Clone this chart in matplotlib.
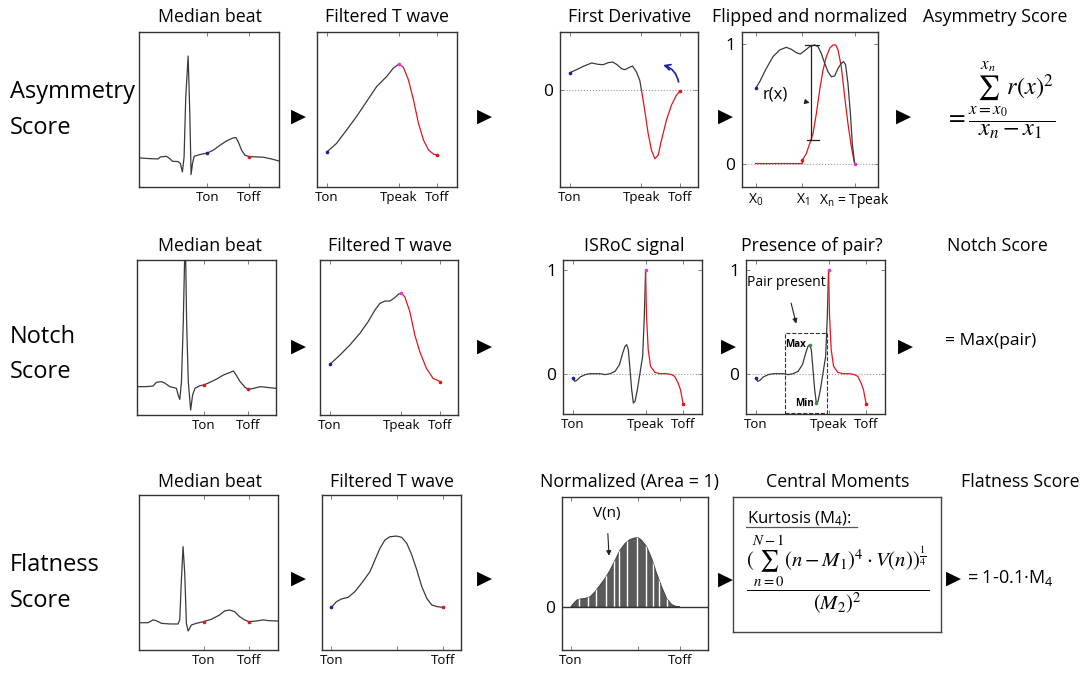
import matplotlib
matplotlib.use("Agg")
import matplotlib.pyplot as plt
from matplotlib.patches import Rectangle, Polygon
from matplotlib.lines import Line2D

plt.rcParams['font.family'] = ['Open Sans', 'DejaVu Sans']
plt.rcParams['mathtext.fontset'] = 'custom'
plt.rcParams['mathtext.rm'] = 'Open Sans'
plt.rcParams['mathtext.it'] = 'Open Sans:italic'
plt.rcParams['mathtext.bf'] = 'Open Sans:bold'

W, H = 1082, 673

# ---- row 1 : asymmetry ----
med1_x = [0, 7.6, 13.6, 15.3, 19.6, 22.0, 23.9, 27.9, 29.6, 31.0, 32.2, 33.4, 35.1, 36.3, 37.2, 38.2,
          39.4, 43.4, 48.9, 53.0, 57.8, 62.5, 67.3, 69.2, 70.9, 73.3, 75.7, 78.8, 84.0, 88.8, 93.6, 100]
med1_y = [18.8, 18.3, 18.1, 19.4, 19.8, 18.3, 16.6, 16.4, 15.1, 9.7, 19.4, 58.2, 84.5, 47.4, 8.0, 15.1,
          19.8, 20.9, 22.0, 23.7, 26.9, 29.7, 31.7, 31.9, 29.1, 23.7, 20.5, 19.6, 19.4, 19.2, 18.3, 16.8]
med1_ticks = [48.9, 78.8]
med1_dots = [(48.9, 22.0, 'blue'), (78.8, 19.6, 'red')]

filt1_rise_x = [7.2, 13.9, 21.1, 28.2, 35.4, 42.6, 49.8, 54.5, 58.6]
filt1_rise_y = [22.7, 28.1, 36.7, 45.4, 55.1, 64.8, 71.3, 76.7, 79.3]
filt1_fall_x = [58.6, 61.7, 65.3, 68.9, 72.5, 76.1, 79.7, 83.3, 85.9]
filt1_fall_y = [79.3, 77.3, 69.1, 56.2, 41.0, 30.2, 23.8, 21.2, 20.5]
filt1_ticks = [7.2, 58.6, 85.9]

der_a_x = [7.2, 12.0, 16.9, 22.9, 27.7, 31.3, 34.9, 38.1, 41.0, 44.6, 47.0, 49.4, 52.5, 55.4, 57.8, 59.0]
der_a_y = [0.51, 0.60, 0.70, 0.80, 0.76, 0.75, 0.81, 0.83, 0.76, 0.63, 0.60, 0.65, 0.71, 0.53, 0.28, 0.0]
der_b_x = [59.0, 61.4, 63.9, 66.3, 68.7, 71.1, 73.5, 77.1, 80.7, 84.3, 86.7]
der_b_y = [0.0, -0.62, -1.32, -1.82, -2.07, -1.97, -1.52, -0.92, -0.47, -0.17, -0.05]
der_ticks = [7.2, 59.0, 86.7]

flip_k_x = [10.0, 13.0, 17.9, 22.8, 27.7, 32.6, 36.3, 40.0, 42.9, 46.1, 49.8, 53.4, 55.9, 58.3, 60.8,
            63.2, 65.7, 68.1, 70.6, 73.0, 74.8, 76.2, 77.9, 79.7, 81.1, 82.8]
flip_k_y = [0.628, 0.684, 0.796, 0.894, 0.950, 0.972, 0.955, 0.927, 0.916, 0.944, 0.978, 0.992, 0.978,
            0.922, 0.838, 0.768, 0.726, 0.732, 0.796, 0.838, 0.852, 0.824, 0.670, 0.419, 0.168, 0.0]
flip_r_x = [10.0, 44.4, 44.4, 47.3, 49.8, 52.2, 54.7, 57.1, 59.6, 62.0, 64.5, 66.9, 68.9, 70.6, 73.0,
            75.5, 77.9, 80.4, 82.8]
flip_r_y = [0.0, 0.0, 0.028, 0.084, 0.168, 0.251, 0.419, 0.615, 0.782, 0.894, 0.964, 0.992, 0.992,
            0.950, 0.810, 0.559, 0.335, 0.140, 0.0]
flip_ticks = [10.0, 44.4, 82.8]
rx_pos = 51.0
rx_top, rx_bot = 0.992, 0.196

# ---- row 2 : notch ----
med2_x = [0, 6.7, 11.6, 14.0, 17.6, 20.0, 23.6, 28.4, 29.6, 30.8, 32.0, 33.3, 34.7, 35.7, 36.9, 38.6,
          40.0, 41.7, 45.3, 48.2, 52.5, 57.3, 62.2, 67.0, 69.4, 71.3, 74.2, 77.8, 80.2, 83.9, 88.7, 93.5, 100]
med2_y = [18.3, 18.3, 18.7, 21.1, 21.5, 20.6, 18.3, 17.2, 12.9, 10.1, 21.5, 60.2, 120, 60.2, 21.5, 3.2,
          12.9, 17.2, 18.9, 19.4, 21.1, 23.2, 25.8, 27.5, 28.4, 25.8, 21.5, 17.8, 16.6, 17.2, 18.3, 17.8, 17.2]
med2_ticks = [48.2, 80.2]
med2_dots = [(48.2, 19.4, 'red'), (80.2, 16.6, 'red')]

filt2_rise_x = [7.2, 14.5, 21.7, 28.9, 34.9, 39.8, 43.4, 47.0, 50.6, 54.2, 57.1, 59.0]
filt2_rise_y = [32.7, 38.7, 45.2, 52.7, 60.2, 67.7, 72.0, 73.5, 73.5, 75.7, 78.1, 78.5]
filt2_fall_x = [59.0, 61.4, 65.1, 68.7, 72.3, 77.1, 81.9, 87.2]
filt2_fall_y = [78.5, 76.3, 66.7, 51.6, 40.9, 30.1, 23.7, 21.5]
filt2_ticks = [7.2, 59.0, 87.2]

isr_a_x = [6.9, 8.4, 10.0, 12.4, 16.0, 19.6, 23.2, 26.7, 30.3, 33.9, 37.5, 40.6, 43.0, 44.6, 45.8,
           47.0, 48.2, 49.4, 50.6, 51.8, 53.5, 55.4, 57.3, 58.5, 59.4]
isr_a_y = [-0.039, -0.071, -0.061, -0.029, -0.006, 0.003, 0.003, 0.003, -0.006, 0.003, 0.026, 0.090,
           0.203, 0.267, 0.283, 0.235, 0.042, -0.151, -0.280, -0.264, -0.151, 0.010, 0.170, 0.556, 1.0]
isr_b_x = [59.4, 60.1, 61.3, 63.0, 66.1, 69.7, 74.5, 78.0, 80.4, 82.8, 84.5, 86.4]
isr_b_y = [1.0, 0.556, 0.235, 0.074, 0.016, 0.003, 0.003, -0.006, -0.023, -0.087, -0.151, -0.286]
isr_ticks = [6.9, 59.4, 86.4]
pair_max = (45.8, 0.283)
pair_min = (50.6, -0.280)
pair_box = (28.2, -0.376, 58.6, 0.395)

# ---- row 3 : flatness ----
med3_x = [0, 6.5, 10.1, 12.5, 16.1, 22.1, 28.1, 29.3, 30.5, 31.7, 32.9, 34.1, 35.3, 36.5, 37.6, 41.2,
          46.5, 52.0, 58.0, 61.6, 65.2, 68.8, 72.4, 76.0, 78.9, 84.4, 89.2, 94.0, 100]
med3_y = [17.6, 17.6, 19.4, 18.9, 17.2, 16.8, 16.8, 19.4, 45.2, 66.7, 49.5, 17.2, 12.3, 14.0, 16.1, 17.2,
          18.3, 19.8, 22.6, 25.2, 25.8, 24.7, 21.5, 19.4, 18.3, 18.7, 19.4, 18.9, 18.7]
med3_ticks = [46.5, 78.9]
med3_dots = [(46.5, 18.3, 'red'), (78.9, 18.3, 'red')]

filt3_x = [6.7, 10.4, 14.0, 18.8, 23.6, 28.4, 34.5, 38.1, 41.7, 45.3, 48.9, 53.7, 57.3, 61.0, 64.6,
           68.2, 71.8, 75.4, 79.0, 82.7, 87.0]
filt3_y = [27.5, 31.2, 32.9, 34.0, 37.6, 43.0, 50.5, 58.1, 65.6, 71.0, 73.1, 73.5, 72.7, 68.8, 61.3,
           51.6, 40.9, 33.3, 29.0, 28.0, 27.5]
filt3_ticks = [6.7, 54.0, 87.0]

norm_x = [6.1, 8.0, 10.2, 12.5, 15.9, 19.3, 22.7, 26.1, 29.5, 33.0, 36.4, 39.8, 43.2, 46.6, 50.0, 52.3,
          54.5, 58.0, 61.4, 64.8, 68.2, 71.6, 75.0, 78.4, 80.7]
norm_y = [0, 0.10, 0.20, 0.23, 0.25, 0.30, 0.45, 0.65, 0.85, 1.10, 1.40, 1.70, 1.90, 2.02, 2.07, 2.07,
          2.00, 1.80, 1.45, 1.00, 0.60, 0.25, 0.07, 0, 0]
norm_samples = [11.8, 17.7, 23.4, 29.8, 35.5, 39.1, 44.8, 51.1, 57.3, 62.5, 66.4, 71.8]
norm_ticks = [6.1, 52.0, 80.7]

BLACK = '#3a3a3a'
RED = '#e3141c'
BLUE = '#1b1f9c'
MAG = '#e03cc8'
DOTC = {'blue': BLUE, 'red': RED}
MS = 1.6
LW = 0.9


def box(l, t, r, b):
    return [l / W, 1 - b / H, (r - l) / W, (b - t) / H]


def ftext(x, y, s, **kw):
    return fig.text(x / W, 1 - y / H, s, **kw)


def panel(rect, xlim, ylim, xticks, xlabels, yticks=(), ylabels=()):
    ax = fig.add_axes(box(*rect))
    ax.set_xlim(xlim)
    ax.set_ylim(ylim)
    ax.set_xticks(xticks)
    ax.set_xticklabels(xlabels, fontsize=9.5)
    ax.set_yticks(list(yticks))
    ax.set_yticklabels(list(ylabels), fontsize=12.5)
    ax.tick_params(direction='in', length=3, top=True, right=True, width=0.6,
                   color='#666', pad=3)
    ax.tick_params(axis='y', pad=5)
    for s in ax.spines.values():
        s.set_color('#333')
        s.set_linewidth(1.0)
    return ax


fig = plt.figure(figsize=(W / 100, H / 100), dpi=100)

# row labels
for y1, y2, word in [(92, 128, 'Asymmetry'), (337, 372, 'Notch'), (565, 601, 'Flatness')]:
    ftext(10, y1, word, fontsize=17, va='center', ha='left')
    ftext(10, y2, 'Score', fontsize=17, va='center', ha='left')

# titles
titles = [
    (210, 17, 'Median beat'), (387, 17, 'Filtered T wave'), (630, 17, 'First Derivative'),
    (810, 17, 'Flipped and normalized'), (995, 17, 'Asymmetry Score'),
    (210, 246, 'Median beat'), (390, 246, 'Filtered T wave'), (634, 246, 'ISRoC signal'),
    (812, 246, 'Presence of pair?'), (997, 246, 'Notch Score'),
    (210, 482, 'Median beat'), (392, 482, 'Filtered T wave'), (630, 482, 'Normalized (Area = 1)'),
    (838, 482, 'Central Moments'), (1020, 482, 'Flatness Score'),
]
for x, y, s in titles:
    ftext(x, y, s, fontsize=12.8, ha='center', va='center')

# arrows between steps
for x, y in [(298, 116), (484, 116), (725, 116), (903, 116),
             (298, 346), (484, 346), (728, 346), (905, 346),
             (298, 578), (484, 578), (725, 579), (953, 578)]:
    ftext(x, y, '\u25B6', fontsize=14, ha='center', va='center', family='DejaVu Sans')


def draw_median(rect, xs, ys, ticks, dots):
    ax = panel(rect, (0, 100), (0, 100), ticks, ['Ton', 'Toff'])
    ax.plot(xs, ys, color=BLACK, lw=LW)
    for x, y, c in dots:
        ax.plot(x, y, 'o', ms=MS, color=DOTC[c])
    return ax


def draw_filtered(rect, rx, ry, fx, fy, ticks):
    ax = panel(rect, (0, 100), (0, 100), ticks, ['Ton', 'Tpeak', 'Toff'])
    ax.plot(rx, ry, color=BLACK, lw=LW)
    ax.plot(fx, fy, color=RED, lw=LW)
    ax.plot(rx[0], ry[0], 'o', ms=MS, color=BLUE)
    ax.plot(fx[0], fy[0], 'o', ms=MS, color=MAG)
    ax.plot(fx[-1], fy[-1], 'o', ms=MS, color=RED)
    return ax


# row 1
draw_median((139, 32, 279, 187), med1_x, med1_y, med1_ticks, med1_dots)
draw_filtered((317, 32, 457, 187), filt1_rise_x, filt1_rise_y, filt1_fall_x, filt1_fall_y, filt1_ticks)

ax = panel((560, 32, 698, 187), (0, 100), (-2.92, 1.73), der_ticks, ['Ton', 'Tpeak', 'Toff'], [0], ['0'])
ax.axhline(0, color='#999', ls=':', lw=0.8)
ax.plot(der_a_x, der_a_y, color=BLACK, lw=LW)
ax.plot(der_b_x, der_b_y, color=RED, lw=LW)
ax.plot(der_a_x[0], der_a_y[0], 'o', ms=MS, color=BLUE)
ax.plot(der_b_x[-1], der_b_y[-1], 'o', ms=MS, color=RED)
ax.annotate('', xy=(72.8, 0.76), xytext=(86.3, 0.15),
            arrowprops=dict(arrowstyle='->', color=BLUE, lw=1.2, connectionstyle='arc3,rad=0.35'))

ax = panel((742, 32, 878, 187), (0, 100), (-0.196, 1.10), flip_ticks,
           ['X$_0$', 'X$_1$', 'X$_\\mathrm{n}$ = Tpeak'], [0, 1], ['0', '1'])
ax.axhline(0, color='#999', ls=':', lw=0.8)
ax.plot(flip_r_x, flip_r_y, color=RED, lw=LW)
ax.plot(flip_k_x, flip_k_y, color=BLACK, lw=LW)
ax.plot(flip_k_x[0], flip_k_y[0], 'o', ms=MS, color=BLUE)
ax.plot(flip_k_x[-1], flip_k_y[-1], 'o', ms=MS, color=MAG)
ax.plot(flip_r_x[2], flip_r_y[2], 'o', ms=MS, color=RED)
ax.plot([rx_pos, rx_pos], [rx_bot, rx_top], color='#222', lw=0.9)
ax.plot([46.1, 56.6], [rx_top, rx_top], color='#222', lw=0.9)
ax.plot([47.8, 56.6], [rx_bot, rx_bot], color='#222', lw=0.9)
ax.annotate('r(x)', xy=(49.8, 0.508), xytext=(24.8, 0.578), fontsize=12, ha='center', va='center',
            arrowprops=dict(arrowstyle='-|>', color='#222', lw=0.8, mutation_scale=7, shrinkA=12))
ax.set_xticklabels(['X$_0$', 'X$_1$', 'X$_\\mathrm{n}$ = Tpeak'], fontsize=10)

ftext(945, 100, r'$=\dfrac{\sum_{x=x_0}^{x_n} r(x)^2}{x_n - x_1}$', fontsize=17.5,
      ha='left', va='center', math_fontfamily='stix')

# row 2
draw_median((137, 260, 276, 415), med2_x, med2_y, med2_ticks, med2_dots)
draw_filtered((320, 260, 458, 415), filt2_rise_x, filt2_rise_y, filt2_fall_x, filt2_fall_y, filt2_ticks)

for i, rect in enumerate([(563, 260, 702, 414), (746, 260, 885, 414)]):
    ax = panel(rect, (0, 100), (-0.386, 1.10), isr_ticks, ['Ton', 'Tpeak', 'Toff'], [0, 1], ['0', '1'])
    ax.axhline(0, color='#999', ls=':', lw=0.8)
    ax.plot(isr_a_x, isr_a_y, color=BLACK, lw=LW)
    ax.plot(isr_b_x, isr_b_y, color=RED, lw=LW)
    ax.plot(isr_a_x[0], isr_a_y[0], 'o', ms=MS, color=BLUE)
    ax.plot(isr_b_x[0], isr_b_y[0], 'o', ms=MS, color=MAG)
    ax.plot(isr_b_x[-1], isr_b_y[-1], 'o', ms=MS, color=RED)
    if i == 1:
        x0, y0, x1, y1 = pair_box
        ax.add_patch(Rectangle((x0, y0), x1 - x0, y1 - y0, fill=False, ls='--', lw=0.8, ec='#333'))
        ax.plot(*pair_max, 'o', ms=MS, color='#2a9a3a')
        ax.plot(*pair_min, 'o', ms=MS, color='#2a9a3a')
        ax.text(pair_max[0] - 3, pair_max[1], 'Max', fontsize=7, fontweight='bold', ha='right', va='center')
        ax.text(pair_min[0] - 2, pair_min[1], 'Min', fontsize=7, fontweight='bold', ha='right', va='center')
        ax.annotate('Pair present', xy=(36.6, 0.46), xytext=(28.7, 0.887), fontsize=10,
                    ha='center', va='center',
                    arrowprops=dict(arrowstyle='-|>', color='#222', lw=0.8, mutation_scale=7, shrinkA=8))

ftext(945, 341, '= Max(pair)', fontsize=12.5, ha='left', va='center')

# row 3
draw_median((139, 495, 278, 650), med3_x, med3_y, med3_ticks, med3_dots)
ax = panel((322, 495, 461, 650), (0, 100), (0, 100), filt3_ticks, ['Ton', '', 'Toff'])
ax.plot(filt3_x, filt3_y, color=BLACK, lw=LW)
ax.plot(filt3_x[0], filt3_y[0], 'o', ms=MS, color=BLUE)
ax.plot(filt3_x[-1], filt3_y[-1], 'o', ms=MS, color=RED)

ax = panel((562, 497, 708, 650), (0, 100), (-1.3, 3.3), norm_ticks, ['Ton', '', 'Toff'], [0], ['0'])
poly = Polygon(list(zip(norm_x, norm_y)), closed=True, fc='#5a5a5a', ec='#444', lw=0.8)
ax.add_patch(poly)
vl = ax.vlines(norm_samples, 0, 3, colors='white', lw=1.0)
vl.set_clip_path(poly)
ax.axhline(0, color='#333', lw=1.0)
ax.annotate('V(n)', xy=(32.3, 1.45), xytext=(30.7, 2.8), fontsize=11, ha='center', va='center',
            arrowprops=dict(arrowstyle='-|>', color='#222', lw=0.8, mutation_scale=7, shrinkA=7))

bx = fig.add_axes(box(733, 497, 941, 632))
bx.set_xticks([])
bx.set_yticks([])
for s in bx.spines.values():
    s.set_color('#444')
    s.set_linewidth(1.0)
ftext(747, 519, 'Kurtosis (M$_4$):', fontsize=12, ha='left', va='center')
fig.add_artist(Line2D([746 / W, 857 / W], [1 - 527 / H, 1 - 527 / H], color='#555', lw=0.9))
ftext(838, 575, r'$\dfrac{(\sum_{n=0}^{N-1}(n-M_1)^4\cdot V(n))^{\frac{1}{4}}}{(M_2)^2}$',
      fontsize=15, ha='center', va='center', math_fontfamily='stix')

ftext(967, 578, '= 1-0.1\u00b7M$_4$', fontsize=13, ha='left', va='center')

fig.savefig('out.png', dpi=100)
